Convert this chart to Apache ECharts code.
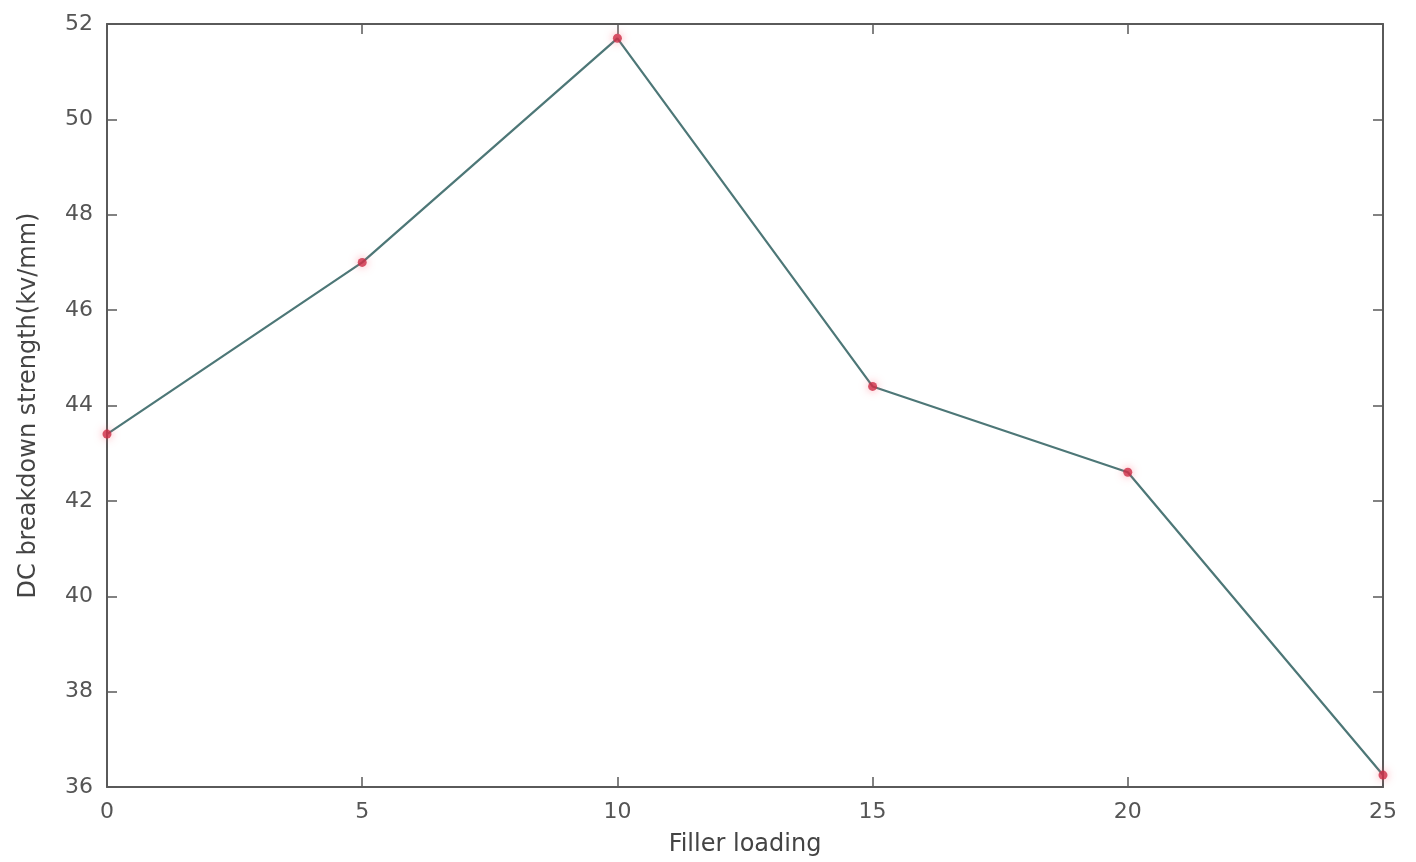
<!DOCTYPE html>
<html>
<head>
    <meta charset="UTF-8">
    <title>DC breakdown strength</title>
    <script src="https://cdnjs.cloudflare.com/ajax/libs/echarts/6.0.0/echarts.min.js"></script>
    <style>
        html, body { margin: 0; padding: 0; background: #fff; overflow: hidden; }
        #chart { width: 100vw; height: 100vh; }
    </style>
</head>
<body>
    <div id="chart"></div>
    <script>
        // data
        const fillerLoading = [0, 5, 10, 15, 20, 25];
        const strength = [43.4, 47.0, 51.7, 44.4, 42.6, 36.25];

        const chart = echarts.init(document.getElementById('chart'));
        const font = '"DejaVu Sans", sans-serif';
        const axisColor = '#5a5a5a';

        // box axes (MATLAB style, ticks inward on all four sides)
        function boxAxis(pos, extra) {
            return Object.assign({
                type: 'value',
                position: pos,
                axisLine: { show: true, onZero: false, lineStyle: { color: axisColor, width: 2 } },
                axisTick: { show: true, inside: true, length: 10, lineStyle: { color: axisColor, width: 1.5 } },
                splitLine: { show: false }
            }, extra);
        }

        const option = {
            backgroundColor: '#fff',
            animation: false,
            grid: { left: 107, right: 33, top: 24, bottom: 75, outerBoundsMode: 'none', containLabel: false },
            xAxis: [
                boxAxis('bottom', {
                    min: 0, max: 25, interval: 5,
                    name: 'Filler loading',
                    nameLocation: 'middle',
                    nameGap: 46,
                    nameTextStyle: { color: '#444', fontSize: 24, fontFamily: font },
                    axisLabel: { color: '#555', fontSize: 22, fontFamily: font, margin: 14 }
                }),
                boxAxis('top', { min: 0, max: 25, interval: 5, axisLabel: { show: false } })
            ],
            yAxis: [
                boxAxis('left', {
                    min: 36, max: 52, interval: 2,
                    name: 'DC breakdown strength(kv/mm)',
                    nameLocation: 'middle',
                    nameGap: 66,
                    nameTextStyle: { color: '#444', fontSize: 24, fontFamily: font },
                    axisLabel: { color: '#555', fontSize: 22, fontFamily: font, margin: 14 }
                }),
                boxAxis('right', { min: 36, max: 52, interval: 2, axisLabel: { show: false } })
            ],
            series: [{
                type: 'line',
                data: fillerLoading.map((x, i) => [x, strength[i]]),
                lineStyle: { color: '#4d7777', width: 2.2 },
                symbol: 'circle',
                symbolSize: 9,
                itemStyle: {
                    color: 'rgba(205, 45, 70, 0.8)',
                    borderWidth: 0,
                    shadowBlur: 8,
                    shadowColor: 'rgba(255, 90, 110, 0.7)'
                },
                z: 3
            }]
        };

        chart.setOption(option);
        window.addEventListener('resize', () => chart.resize());
    </script>
</body>
</html>
